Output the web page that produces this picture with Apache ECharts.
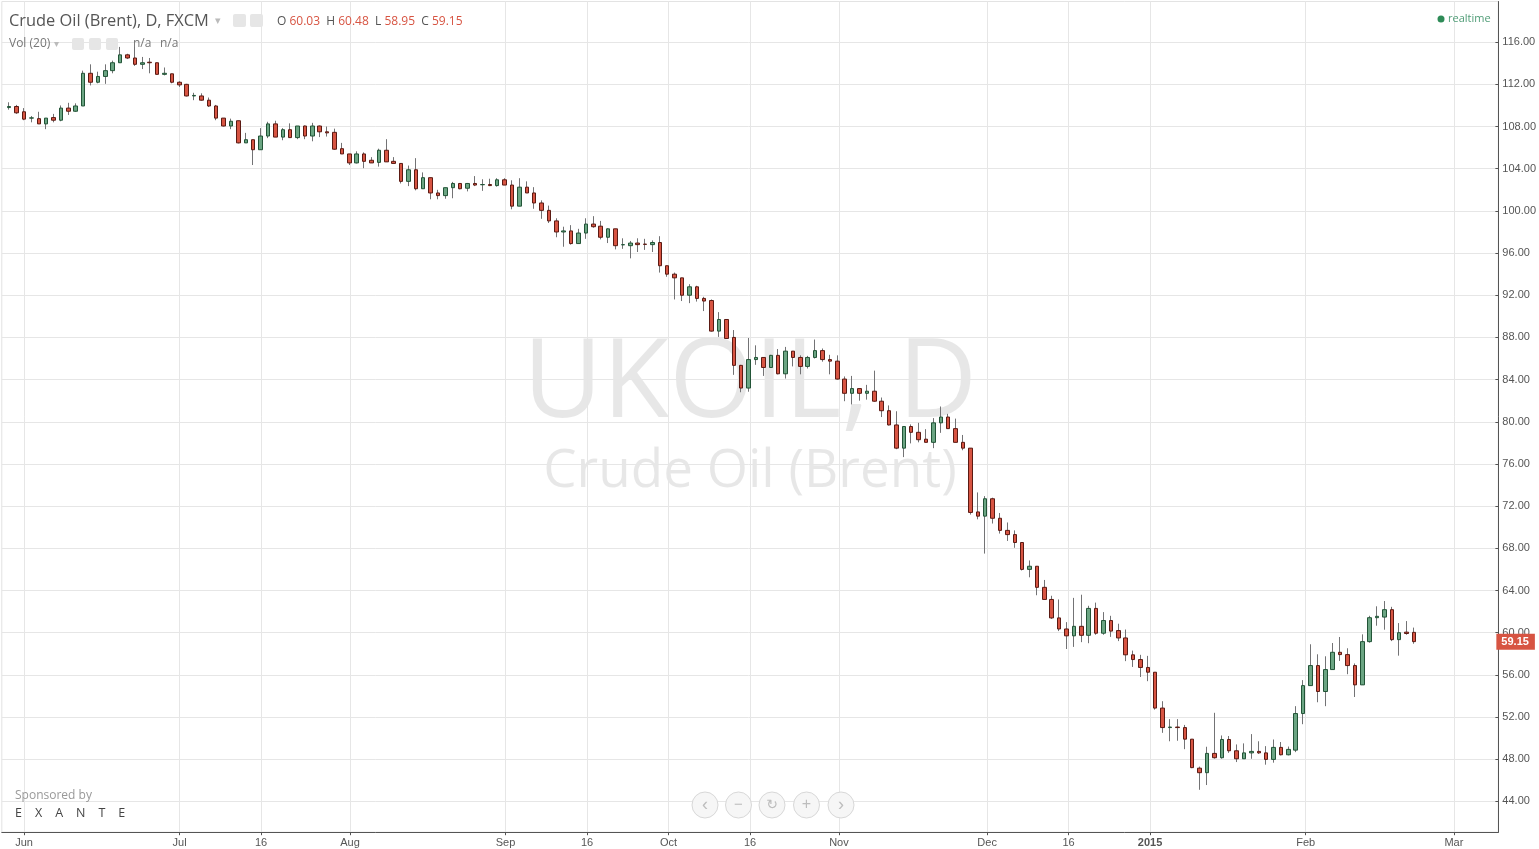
<!DOCTYPE html>
<html><head><meta charset="utf-8">
<script src="https://cdn.jsdelivr.net/npm/echarts@6/dist/echarts.min.js"></script>
<style>html,body{margin:0;padding:0;background:#fff}#c{width:1539px;height:849px}</style>
</head><body><div id="c"></div>
<script>
// ---- categories (trading days, incl. padding before/after data) ----
const dates = [
'2014-05-28','2014-05-29','2014-05-30',
'2014-06-02','2014-06-03','2014-06-04','2014-06-05','2014-06-06','2014-06-09','2014-06-10','2014-06-11','2014-06-12','2014-06-13','2014-06-16','2014-06-17','2014-06-18','2014-06-19','2014-06-20','2014-06-23','2014-06-24','2014-06-25','2014-06-26','2014-06-27','2014-06-30',
'2014-07-01','2014-07-02','2014-07-03','2014-07-04','2014-07-07','2014-07-08','2014-07-09','2014-07-10','2014-07-11','2014-07-14','2014-07-15','2014-07-16','2014-07-17','2014-07-18','2014-07-21','2014-07-22','2014-07-23','2014-07-24','2014-07-25','2014-07-28','2014-07-29','2014-07-30','2014-07-31',
'2014-08-01','2014-08-04','2014-08-05','2014-08-06','2014-08-07','2014-08-08','2014-08-11','2014-08-12','2014-08-13','2014-08-14','2014-08-15','2014-08-18','2014-08-19','2014-08-20','2014-08-21','2014-08-22','2014-08-25','2014-08-26','2014-08-27','2014-08-28','2014-08-29',
'2014-09-01','2014-09-02','2014-09-03','2014-09-04','2014-09-05','2014-09-08','2014-09-09','2014-09-10','2014-09-11','2014-09-12','2014-09-15','2014-09-16','2014-09-17','2014-09-18','2014-09-19','2014-09-22','2014-09-23','2014-09-24','2014-09-25','2014-09-26','2014-09-29','2014-09-30',
'2014-10-01','2014-10-02','2014-10-03','2014-10-06','2014-10-07','2014-10-08','2014-10-09','2014-10-10','2014-10-13','2014-10-14','2014-10-15','2014-10-16','2014-10-17','2014-10-20','2014-10-21','2014-10-22','2014-10-23','2014-10-24','2014-10-27','2014-10-28','2014-10-29','2014-10-30','2014-10-31',
'2014-11-03','2014-11-04','2014-11-05','2014-11-06','2014-11-07','2014-11-10','2014-11-11','2014-11-12','2014-11-13','2014-11-14','2014-11-17','2014-11-18','2014-11-19','2014-11-20','2014-11-21','2014-11-24','2014-11-25','2014-11-26','2014-11-27','2014-11-28',
'2014-12-01','2014-12-02','2014-12-03','2014-12-04','2014-12-05','2014-12-08','2014-12-09','2014-12-10','2014-12-11','2014-12-12','2014-12-15','2014-12-16','2014-12-17','2014-12-18','2014-12-19','2014-12-22','2014-12-23','2014-12-24','2014-12-26','2014-12-29','2014-12-30','2014-12-31',
'2015-01-02','2015-01-05','2015-01-06','2015-01-07','2015-01-08','2015-01-09','2015-01-12','2015-01-13','2015-01-14','2015-01-15','2015-01-16','2015-01-19','2015-01-20','2015-01-21','2015-01-22','2015-01-23','2015-01-26','2015-01-27','2015-01-28','2015-01-29','2015-01-30',
'2015-02-02','2015-02-03','2015-02-04','2015-02-05','2015-02-06','2015-02-09','2015-02-10','2015-02-11','2015-02-12','2015-02-13','2015-02-16','2015-02-17','2015-02-18','2015-02-19','2015-02-20','2015-02-23',
'2015-02-24','2015-02-25','2015-02-26','2015-02-27',
'2015-03-02','2015-03-03','2015-03-04','2015-03-05','2015-03-06','2015-03-09','2015-03-10'
];
const firstDataDate = '2014-05-29';

// ---- OHLC values (one per trading day from firstDataDate) ----
const open = [
109.8,109.9,109.4,108.8,108.75,108.25,108.85,108.6,109.75,109.45,
109.95,113.05,112.2,112.75,113.3,114.05,114.8,114.5,113.9,114.1,
114.05,112.95,113.0,112.2,112.0,110.9,110.9,110.5,109.95,108.8,
108.05,108.55,106.45,106.75,105.8,107.1,108.25,107.0,107.7,106.95,
108.05,107.1,108.05,107.5,107.45,105.9,105.4,104.55,105.4,104.8,
104.6,105.75,104.7,104.5,102.8,103.9,102.1,103.15,101.7,101.45,
102.2,102.6,102.15,102.6,102.48,102.5,102.4,102.95,102.45,100.45,
102.25,101.7,100.75,100.05,99.05,98.0,98.1,96.9,97.9,98.75,
98.55,97.5,98.3,96.78,96.7,96.95,96.85,96.8,97.0,94.8,
94.0,93.65,92.0,92.8,91.7,91.5,88.6,89.7,88.0,85.35,
83.2,85.9,86.1,85.15,86.3,84.55,86.7,86.1,85.25,86.1,
86.75,85.9,85.75,84.05,82.7,83.15,82.7,82.9,81.95,81.05,
79.7,77.5,79.55,79.0,78.35,78.05,79.9,80.45,79.35,78.05,
77.5,71.45,71.05,72.7,70.85,69.7,69.3,68.55,66.0,66.3,
64.3,63.15,61.4,60.35,59.7,60.6,59.75,62.3,59.95,61.15,
60.2,59.5,57.9,57.45,56.7,56.25,52.85,51.0,51.05,51.0,
49.9,47.15,46.72,48.55,48.14,49.87,48.8,48.04,48.6,48.74,
48.6,47.98,49.12,48.42,48.86,52.33,54.98,56.88,54.42,56.5,
58.14,57.92,56.88,55.05,59.15,61.42,61.48,62.18,59.34,60.05,
60.03
];
const close = [
109.9,109.3,108.7,108.82,108.25,108.8,108.6,109.75,109.45,109.95,
113.05,112.2,112.75,113.3,114.05,114.8,114.5,113.9,114.05,114.05,
112.95,113.05,112.2,111.95,110.9,110.95,110.5,109.95,108.8,108.05,
108.5,106.45,106.75,105.8,107.1,108.25,107.0,107.7,106.95,108.05,
107.1,108.05,107.5,107.4,105.85,105.4,104.55,105.4,104.7,104.55,
105.75,104.65,104.5,102.8,103.9,102.1,103.15,101.7,101.45,102.2,
102.6,102.1,102.6,102.45,102.5,102.4,102.95,102.45,100.45,102.25,
101.7,100.75,100.05,99.05,98.0,98.1,96.9,97.9,98.75,98.5,
97.5,98.3,96.7,96.8,96.95,96.8,96.82,97.0,94.8,94.0,
93.65,92.0,92.8,91.7,91.45,88.6,89.7,87.9,85.35,83.2,
85.9,86.1,85.15,86.3,84.55,86.7,86.1,85.25,86.1,86.75,
85.9,85.75,84.05,82.7,83.15,82.7,82.9,81.95,81.05,79.7,
77.5,79.55,79.0,78.3,78.05,79.9,80.45,79.35,78.05,77.5,
71.4,71.05,72.7,70.85,69.7,69.3,68.55,66.0,66.3,64.3,
63.15,61.4,60.35,59.7,60.6,59.75,62.3,59.95,61.15,60.15,
59.5,57.9,57.45,56.7,56.25,52.85,51.0,51.05,51.0,49.9,
47.2,46.72,48.55,48.14,49.87,48.8,48.04,48.6,48.74,48.6,
47.98,49.12,48.42,48.93,52.33,54.98,56.88,54.42,56.5,58.14,
57.92,56.88,55.05,59.15,61.42,61.55,62.18,59.34,60.0,59.92,
59.15
];
const low = [
109.6,109.2,108.6,108.4,108.25,107.75,108.4,108.5,109.1,109.4,
109.95,111.9,112.1,112.05,113.05,114.05,114.4,113.75,113.45,113.05,
112.95,112.85,112.1,111.75,110.85,110.5,110.45,109.85,108.6,108.0,
107.75,106.4,106.45,104.35,105.8,106.9,107.0,106.7,106.95,106.8,
106.8,106.6,107.0,107.05,105.8,105.4,104.35,104.5,104.05,104.55,
104.2,104.65,104.5,102.6,102.35,101.95,102.1,101.1,101.1,101.15,
101.2,102.05,101.85,102.35,101.9,102.35,102.3,102.45,100.15,100.45,
101.7,100.2,99.25,98.85,97.5,96.6,96.8,96.9,97.35,98.4,
97.3,96.95,96.35,96.4,95.5,96.1,96.3,96.1,94.15,93.75,
91.6,91.45,91.25,91.4,90.5,88.55,88.05,87.85,84.45,82.8,
82.85,85.4,84.35,85.1,84.5,84.1,85.25,84.5,85.05,86.0,
85.7,84.5,84.0,81.95,81.65,82.0,82.1,81.9,80.45,79.65,
77.4,76.65,77.95,78.05,78.05,77.5,78.95,79.35,78.05,77.3,
71.2,70.75,67.5,70.35,69.4,68.7,68.05,65.9,65.25,63.55,
63.15,61.3,60.15,58.45,58.65,59.1,59.0,59.8,59.8,59.6,
59.2,57.3,56.75,55.8,55.4,52.7,50.5,49.7,49.75,48.95,
47.15,45.1,45.55,48.05,48.05,48.6,47.73,48.04,48.04,48.5,
47.48,47.67,48.36,48.36,48.67,51.32,54.98,53.4,53.03,56.5,
57.32,56.06,53.9,55.05,59.05,60.66,60.28,59.2,57.82,59.8,
58.95
];
const high = [
110.3,110.05,109.75,109.0,109.4,108.8,109.2,110.0,110.25,110.2,
113.3,113.9,113.2,113.9,114.25,115.55,114.9,115.55,114.6,114.5,
114.05,113.6,113.0,112.3,112.05,111.2,111.15,110.75,110.05,108.8,
108.75,108.55,107.4,106.75,107.85,108.45,108.55,107.85,108.3,108.05,
108.1,108.35,108.1,108.0,107.8,106.45,105.4,105.65,105.55,105.1,
105.9,106.8,105.1,104.5,104.3,105.0,103.65,103.15,102.0,102.2,
102.75,102.65,102.65,103.3,103.0,103.05,103.1,103.1,102.9,103.1,
102.8,102.25,101.0,100.5,99.3,98.5,98.65,98.3,99.3,99.5,
99.05,98.35,98.3,97.4,97.15,97.4,97.35,97.2,97.6,94.8,
94.15,93.65,93.05,92.9,91.85,91.6,90.4,89.7,88.7,85.4,
87.95,87.25,86.1,86.35,86.9,87.1,86.7,86.3,86.25,87.8,
86.95,86.35,86.3,84.3,84.35,83.15,83.5,84.85,82.3,81.55,
81.0,79.55,79.75,79.9,79.3,80.35,81.45,80.75,80.3,78.75,
77.5,73.3,72.95,72.8,71.35,70.45,69.7,68.55,66.85,66.3,
65.0,63.5,63.15,61.0,63.3,63.6,62.55,62.85,61.95,61.6,
60.85,60.3,58.3,57.9,57.8,56.25,53.5,51.8,51.8,51.25,
49.9,47.3,49.18,52.4,50.25,50.2,49.4,49.5,50.38,49.7,
49.24,49.87,49.63,49.2,53.03,55.5,58.9,57.95,57.76,59.02,
59.59,58.52,57.08,59.84,61.6,62.5,63.0,62.45,60.91,61.1,
60.48
];

// ---- axis tick labels ----
const tickDates  = ['2014-06-02','2014-07-01','2014-07-16','2014-08-01','2014-09-01','2014-09-16','2014-10-01','2014-10-16','2014-11-03','2014-12-01','2014-12-16','2015-01-02','2015-02-02','2015-03-02'];
const tickLabels = ['Jun','Jul','16','Aug','Sep','16','Oct','16','Nov','Dec','16','2015','Feb','Mar'];
const priceMin = 40, priceMax = 120, priceStep = 4;

// ---- build series data ----
const off = dates.indexOf(firstDataDate);
const full = dates.map((d, i) => {
  const k = i - off;
  return (k >= 0 && k < open.length) ? [open[k], close[k], low[k], high[k]] : '-';
});
const bodies = dates.map((d, i) => {
  const k = i - off;
  return (k >= 0 && k < open.length)
    ? [open[k], close[k], Math.min(open[k], close[k]), Math.max(open[k], close[k])] : '-';
});
const L = open.length - 1;
const isTick = (idx, v) => tickDates.indexOf(v) >= 0;

const AX = '"Liberation Sans", Arial, sans-serif';
const TX = '"Open Sans", sans-serif';
const UP = '#6ba583', DOWN = '#d75442', UPB = '#225437', DOWNB = '#5b1a13', WICK = '#737375';

const chart = echarts.init(document.getElementById('c'), null, { renderer: 'canvas' });
chart.setOption({
  animation: false,
  backgroundColor: '#ffffff',
  grid: [
    { left: 1.8, right: 40.7, top: -1.56, bottom: 5.44, show: false },
    { left: 1.8, right: 40.7, top: 1.5, bottom: 16.8, show: true, borderColor: '#e3e3e3', borderWidth: 1, backgroundColor: 'transparent' }
  ],
  xAxis: [
    { gridIndex: 0, type: 'category', data: dates, boundaryGap: false, show: false },
    { gridIndex: 1, type: 'category', data: dates, boundaryGap: false,
      axisLine: { show: true, lineStyle: { color: '#555', width: 1 } },
      axisTick: { show: true, interval: isTick, length: 3, lineStyle: { color: '#555' } },
      axisLabel: { interval: isTick, color: '#555', fontSize: 11, fontFamily: AX, margin: 5,
        formatter: (v) => { const t = tickLabels[tickDates.indexOf(v)]; return t === '2015' ? '{b|2015}' : t; },
        rich: { b: { fontWeight: 'bold', color: '#555', fontSize: 11, fontFamily: AX } } },
      splitLine: { show: true, interval: isTick, lineStyle: { color: '#e6e6e6', width: 1 } }
    }
  ],
  yAxis: [
    { gridIndex: 0, type: 'value', position: 'right', min: priceMin, max: priceMax, interval: priceStep,
      axisLine: { show: false },
      axisTick: { show: true, length: 3, lineStyle: { color: '#555' } },
      axisLabel: { color: '#555', fontSize: 11, fontFamily: AX, margin: 7, showMinLabel: false, showMaxLabel: false,
        formatter: (v) => v.toFixed(2) },
      splitLine: { show: true, showMinLine: false, showMaxLine: false, lineStyle: { color: '#e6e6e6', width: 1 } }
    },
    { gridIndex: 1, type: 'value', position: 'right', min: 0, max: 1,
      axisLine: { show: true, lineStyle: { color: '#555', width: 1 } },
      axisTick: { show: false }, axisLabel: { show: false }, splitLine: { show: false } }
  ],
  series: [
    { type: 'candlestick', name: 'wick', xAxisIndex: 0, yAxisIndex: 0, data: full, barWidth: 1, clip: false,
      itemStyle: { color: WICK, color0: WICK, borderColor: WICK, borderColor0: WICK, borderWidth: 1 },
      emphasis: { disabled: true }, z: 2 },
    { type: 'candlestick', name: 'UKOIL', xAxisIndex: 0, yAxisIndex: 0, data: bodies, barWidth: 4, clip: false,
      itemStyle: { color: UP, color0: DOWN, borderColor: UPB, borderColor0: DOWNB, borderWidth: 1 },
      emphasis: { disabled: true }, z: 3,
      markLine: {
        silent: true, symbol: ['none', 'none'], animation: false, z: 10,
        data: [{ yAxis: close[L] }],
        lineStyle: { color: 'rgba(0,0,0,0)', width: 1, type: 'solid' },
        label: { show: true, position: 'end', distance: 1, formatter: () => close[L].toFixed(2),
          color: '#fff', backgroundColor: '#d75442', padding: [3, 6, 2, 5], fontSize: 11, fontWeight: 'bold', fontFamily: AX }
      }
    }
  ],
  graphic: [
    // watermark
    { type: 'text', z: -1, x: 750, y: 386, silent: true,
      style: { text: 'UKOIL, D', fontSize: 109, fontFamily: TX, fill: 'rgba(0,0,0,0.095)', align: 'center', verticalAlign: 'middle', textAlign: 'center', textVerticalAlign: 'middle' } },
    { type: 'text', z: -1, x: 750, y: 472, silent: true,
      style: { text: 'Crude Oil (Brent)', fontSize: 53, fontFamily: TX, fill: 'rgba(0,0,0,0.095)', align: 'center', verticalAlign: 'middle', textAlign: 'center', textVerticalAlign: 'middle' } },
    // header
    { type: 'text', z: 100, x: 9, y: 21,
      style: { text: 'Crude Oil (Brent), D, FXCM', fontSize: 16.4, fontFamily: TX, fill: '#555', verticalAlign: 'middle', textVerticalAlign: 'middle' } },
    { type: 'text', z: 100, x: 215, y: 21,
      style: { text: '▾', fontSize: 11, fontFamily: AX, fill: '#bbb', verticalAlign: 'middle', textVerticalAlign: 'middle' } },
    { type: 'rect', z: 100, shape: { x: 233, y: 14, width: 13, height: 13, r: 2 }, style: { fill: '#e6e6e6' } },
    { type: 'rect', z: 100, shape: { x: 250, y: 14, width: 13, height: 13, r: 2 }, style: { fill: '#e6e6e6' } },
    { type: 'text', z: 100, x: 277, y: 22,
      style: { text: 'O {r|' + open[L].toFixed(2) + '}  H {r|' + high[L].toFixed(2) + '}  L {r|' + low[L].toFixed(2) + '}  C {r|' + close[L].toFixed(2) + '}',
        fontSize: 12, fontFamily: TX, fill: '#555', verticalAlign: 'middle', textVerticalAlign: 'middle',
        rich: { r: { fill: '#d75442', color: '#d75442', fontSize: 12, fontFamily: TX } } } },
    { type: 'text', z: 100, x: 9, y: 44,
      style: { text: 'Vol (20)', fontSize: 12, fontFamily: TX, fill: '#777', verticalAlign: 'middle', textVerticalAlign: 'middle' } },
    { type: 'text', z: 100, x: 54, y: 44,
      style: { text: '▾', fontSize: 10, fontFamily: AX, fill: '#bbb', verticalAlign: 'middle', textVerticalAlign: 'middle' } },
    { type: 'rect', z: 100, shape: { x: 72, y: 38, width: 12, height: 12, r: 2 }, style: { fill: '#e6e6e6' } },
    { type: 'rect', z: 100, shape: { x: 89, y: 38, width: 12, height: 12, r: 2 }, style: { fill: '#e6e6e6' } },
    { type: 'rect', z: 100, shape: { x: 106, y: 38, width: 12, height: 12, r: 2 }, style: { fill: '#e6e6e6' } },
    { type: 'text', z: 100, x: 133, y: 44,
      style: { text: 'n/a', fontSize: 12, fontFamily: TX, fill: '#777', verticalAlign: 'middle', textVerticalAlign: 'middle' } },
    { type: 'text', z: 100, x: 160, y: 44,
      style: { text: 'n/a', fontSize: 12, fontFamily: TX, fill: '#777', verticalAlign: 'middle', textVerticalAlign: 'middle' } },
    // realtime
    { type: 'circle', z: 100, shape: { cx: 1441, cy: 19, r: 3.5 }, style: { fill: '#2e8b57' } },
    { type: 'text', z: 100, x: 1448, y: 19,
      style: { text: 'realtime', fontSize: 11, fontFamily: TX, fill: '#4f9c76', verticalAlign: 'middle', textVerticalAlign: 'middle' } },
    // sponsor
    { type: 'text', z: 100, x: 15, y: 796,
      style: { text: 'Sponsored by', fontSize: 12, fontFamily: TX, fill: '#999', verticalAlign: 'middle', textVerticalAlign: 'middle' } },
    { type: 'text', z: 100, x: 15, y: 813,
      style: { text: 'E    X    A    N    T    E', fontSize: 12.5, fontFamily: TX, fill: '#444', verticalAlign: 'middle', textVerticalAlign: 'middle' } },
    // navigation buttons
    { type: 'circle', z: 100, shape: { cx: 705, cy: 805, r: 13 }, style: { fill: '#f6f6f6', stroke: '#d8d8d8', lineWidth: 1 } },
    { type: 'circle', z: 100, shape: { cx: 738.5, cy: 805, r: 13 }, style: { fill: '#f6f6f6', stroke: '#d8d8d8', lineWidth: 1 } },
    { type: 'circle', z: 100, shape: { cx: 772, cy: 805, r: 13 }, style: { fill: '#f6f6f6', stroke: '#d8d8d8', lineWidth: 1 } },
    { type: 'circle', z: 100, shape: { cx: 806.5, cy: 805, r: 13 }, style: { fill: '#f6f6f6', stroke: '#d8d8d8', lineWidth: 1 } },
    { type: 'circle', z: 100, shape: { cx: 841, cy: 805, r: 13 }, style: { fill: '#f6f6f6', stroke: '#d8d8d8', lineWidth: 1 } },
    { type: 'text', z: 101, x: 705, y: 805, style: { text: '‹', fontSize: 18, fontFamily: AX, fill: '#bdbdbd', align: 'center', verticalAlign: 'middle', textAlign: 'center', textVerticalAlign: 'middle' } },
    { type: 'text', z: 101, x: 738.5, y: 805, style: { text: '−', fontSize: 15, fontFamily: AX, fill: '#bdbdbd', align: 'center', verticalAlign: 'middle', textAlign: 'center', textVerticalAlign: 'middle' } },
    { type: 'text', z: 101, x: 772, y: 805, style: { text: '↻', fontSize: 14, fontFamily: '"DejaVu Sans"', fill: '#bdbdbd', align: 'center', verticalAlign: 'middle', textAlign: 'center', textVerticalAlign: 'middle' } },
    { type: 'text', z: 101, x: 806.5, y: 805, style: { text: '+', fontSize: 16, fontFamily: AX, fill: '#bdbdbd', align: 'center', verticalAlign: 'middle', textAlign: 'center', textVerticalAlign: 'middle' } },
    { type: 'text', z: 101, x: 841, y: 805, style: { text: '›', fontSize: 18, fontFamily: AX, fill: '#bdbdbd', align: 'center', verticalAlign: 'middle', textAlign: 'center', textVerticalAlign: 'middle' } }
  ]
});
</script>
</body></html>
